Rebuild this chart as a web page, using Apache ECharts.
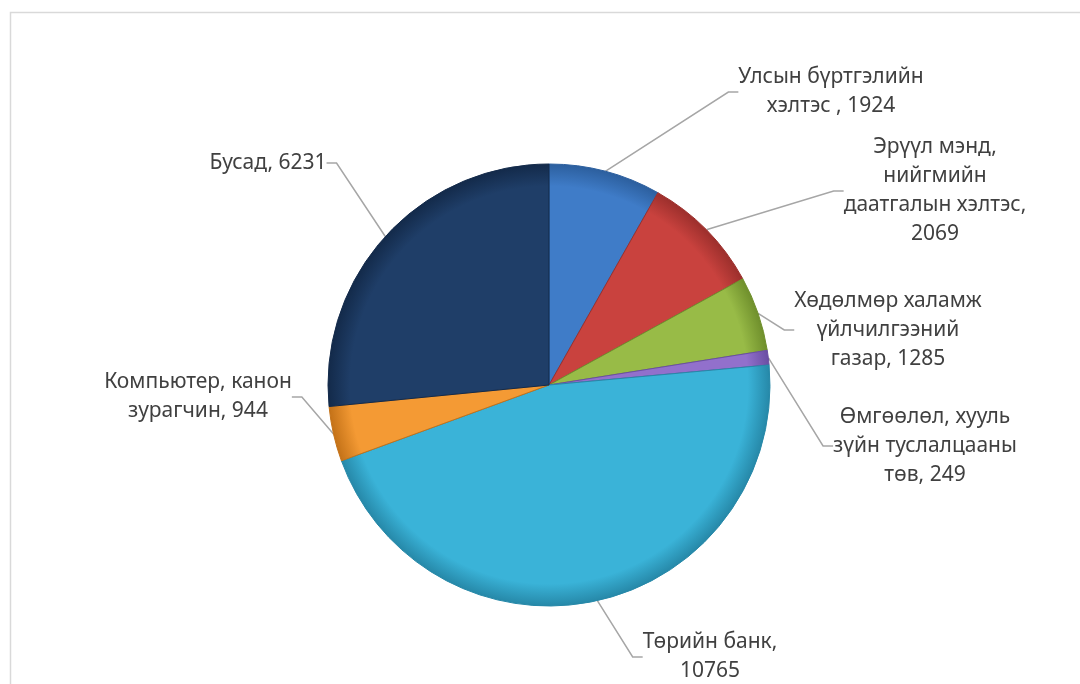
<!DOCTYPE html>
<html>
<head>
<meta charset="utf-8">
<title>pie</title>
<script src="https://cdn.jsdelivr.net/npm/echarts@6/dist/echarts.min.js"></script>
<style>
  html, body { margin: 0; padding: 0; background: #fff; }
  #main { width: 1080px; height: 684px; }
</style>
</head>
<body>
<div id="main"></div>
<script>
// data
var names = [
    'Улсын бүртгэлийн\nхэлтэс ',
    'Эрүүл мэнд,\nнийгмийн\nдаатгалын хэлтэс',
    'Хөдөлмөр халамж\nүйлчилгээний\nгазар',
    'Өмгөөлөл, хууль\nзүйн туслалцааны\nтөв',
    'Төрийн банк',
    'Компьютер, канон\nзурагчин',
    'Бусад'
];
var values = [1924, 2069, 1285, 249, 10765, 944, 6231];
// value written on its own line after the name
var valueOwnLine = [false, true, false, false, true, false, false];
var colors = ['#3f7cc8', '#c9423e', '#98bb47', '#9270cc', '#3ab3d8', '#f49a34', '#1f3e68'];
var darker = ['#2c5f9e', '#9c2f2c', '#6f8f2c', '#6a4ea3', '#2688a8', '#c47218', '#132a4a'];

// label centres (px)
var labelPos = [
    [831, 92], [935, 191], [888, 330], [925, 446],
    [710, 657], [198, 397], [268, 163]
];

var cx = 549, cy = 385, r = 221;

var data = values.map(function (v, i) {
    return {
        name: names[i],
        value: v,
        itemStyle: {
            color: {
                type: 'radial', x: cx, y: cy, r: r, global: true,
                colorStops: [
                    { offset: 0, color: colors[i] },
                    { offset: 0.9, color: colors[i] },
                    { offset: 1, color: darker[i] }
                ]
            },
            borderColor: darker[i],
            borderWidth: 1
        }
    };
});

var chart = echarts.init(document.getElementById('main'));
chart.setOption({
    animation: false,
    graphic: [{
        type: 'rect',
        shape: { x: 10.5, y: 12.5, width: 1100, height: 700 },
        style: { fill: 'none', stroke: '#d9d9d9', lineWidth: 1.5 },
        silent: true
    }],
    series: [{
        type: 'pie',
        center: [cx, cy],
        radius: r,
        startAngle: 90,
        clockwise: true,
        data: data,
        label: {
            show: true,
            position: 'outside',
            fontFamily: 'Noto Sans',
            fontSize: 21,
            lineHeight: 29,
            color: '#404040',
            align: 'center',
            formatter: function (p) {
                return p.name + (valueOwnLine[p.dataIndex] ? ',\n' : ', ') + p.value;
            }
        },
        labelLine: {
            show: true,
            length: 20,
            length2: 10,
            lineStyle: { color: '#a6a6a6', width: 1.5 }
        },
        labelLayout: function (params) {
            var pos = labelPos[params.dataIndex];
            return {
                x: pos[0],
                y: pos[1],
                align: 'center',
                verticalAlign: 'middle'
            };
        }
    }]
});
</script>
</body>
</html>
